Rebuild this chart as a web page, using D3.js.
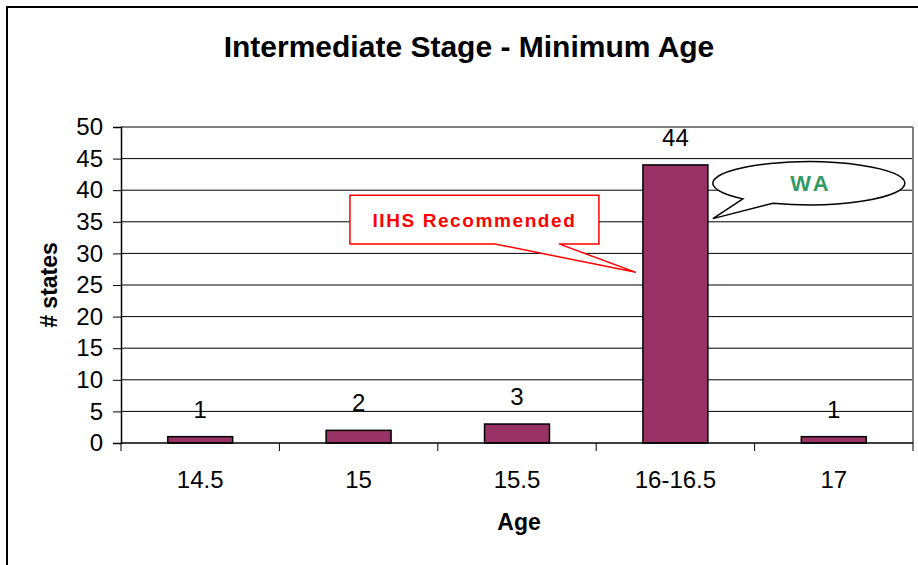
<!DOCTYPE html>
<html>
<head>
<meta charset="utf-8">
<script src="https://cdn.jsdelivr.net/npm/d3@7"></script>
<style>
  body { margin: 0; background: #fff; }
  text { font-family: "Liberation Sans", Arial, sans-serif; }
</style>
</head>
<body>
<svg id="chart"></svg>
<script>
const categories = ["14.5", "15", "15.5", "16-16.5", "17"];
const states = [1, 2, 3, 44, 1];
const yTicks = [0, 5, 10, 15, 20, 25, 30, 35, 40, 45, 50];

const width = 918, height = 565;
const margin = { top: 127, right: 5, bottom: 122, left: 121 };
const innerW = width - margin.left - margin.right;
const innerH = height - margin.top - margin.bottom;

const svg = d3.select("#chart")
    .attr("width", width)
    .attr("height", height);

// outer chart border (runs off the right and bottom edges)
svg.append("rect")
    .attr("x", 7).attr("y", 7)
    .attr("width", width + 10).attr("height", height + 10)
    .attr("fill", "none")
    .attr("stroke", "#000")
    .attr("stroke-width", 2);

svg.append("text")
    .attr("x", 469).attr("y", 57)
    .attr("text-anchor", "middle")
    .attr("font-size", 30)
    .attr("font-weight", "bold")
    .text("Intermediate Stage - Minimum Age");

const g = svg.append("g")
    .attr("transform", "translate(" + margin.left + "," + margin.top + ")");

const x = d3.scaleBand()
    .domain(categories)
    .range([0, innerW])
    .paddingInner(0.59)
    .paddingOuter(0.295);

const y = d3.scaleLinear()
    .domain([0, 50])
    .range([innerH, 0]);

// gridlines
g.selectAll(".grid")
    .data(yTicks.filter(d => d > 0))
    .enter().append("line")
    .attr("x1", 0).attr("x2", innerW)
    .attr("y1", d => y(d)).attr("y2", d => y(d))
    .attr("stroke", d => d === 50 ? "#808080" : "#000")
    .attr("stroke-width", d => d === 50 ? 2 : 1);

// plot area right border
g.append("line")
    .attr("x1", innerW).attr("x2", innerW)
    .attr("y1", 0).attr("y2", innerH)
    .attr("stroke", "#808080")
    .attr("stroke-width", 2);

g.selectAll(".bar")
    .data(states)
    .enter().append("rect")
    .attr("class", "bar")
    .attr("x", (d, i) => x(categories[i]))
    .attr("y", d => y(d))
    .attr("width", x.bandwidth())
    .attr("height", d => innerH - y(d))
    .attr("fill", "#993366")
    .attr("stroke", "#000")
    .attr("stroke-width", 1.5);

g.selectAll(".val")
    .data(states)
    .enter().append("text")
    .attr("x", (d, i) => x(categories[i]) + x.bandwidth() / 2)
    .attr("y", d => y(d) - 19)
    .attr("text-anchor", "middle")
    .attr("font-size", 24)
    .text(d => d);

// y axis
const yAxis = g.append("g")
    .call(d3.axisLeft(y).tickValues(yTicks).tickSize(8).tickPadding(10));
yAxis.select(".domain").attr("stroke", "#000").attr("stroke-width", 1.5);
yAxis.selectAll(".tick line").attr("stroke", "#000");
yAxis.selectAll(".tick text")
    .attr("font-size", 24)
    .attr("font-family", "Liberation Sans, Arial, sans-serif")
    .attr("fill", "#000");

// x axis with ticks at category boundaries
const xAxis = g.append("g")
    .attr("transform", "translate(0," + innerH + ")");
xAxis.append("line")
    .attr("x1", 0).attr("x2", innerW)
    .attr("stroke", "#000").attr("stroke-width", 1.5);
const step = x.step();
xAxis.selectAll(".xt")
    .data(d3.range(categories.length + 1))
    .enter().append("line")
    .attr("x1", i => i * step).attr("x2", i => i * step)
    .attr("y1", 0).attr("y2", 8)
    .attr("stroke", "#000");
xAxis.selectAll(".xl")
    .data(categories)
    .enter().append("text")
    .attr("x", d => x(d) + x.bandwidth() / 2)
    .attr("y", 45)
    .attr("text-anchor", "middle")
    .attr("font-size", 24)
    .text(d => d);

svg.append("text")
    .attr("x", margin.left + innerW / 2 + 2).attr("y", 530)
    .attr("text-anchor", "middle")
    .attr("font-size", 23)
    .attr("font-weight", "bold")
    .text("Age");

svg.append("text")
    .attr("transform", "translate(57," + (margin.top + innerH / 2) + ") rotate(-90)")
    .attr("text-anchor", "middle")
    .attr("font-size", 23)
    .attr("font-weight", "bold")
    .text("# states");

// IIHS callout pointing at the 16-16.5 bar
const bx = x("16-16.5");
const tipX = bx - 7, tipY = y(27);
const boxL = bx - 293, boxR = bx - 44, boxT = y(39.2), boxB = y(31.5);
g.append("path")
    .attr("d", "M" + boxL + "," + boxT + "H" + boxR + "V" + boxB +
        "H" + (boxR - 40) + "L" + tipX + "," + tipY +
        "L" + (boxR - 104) + "," + boxB + "H" + boxL + "Z")
    .attr("fill", "#fff")
    .attr("stroke", "#ff0000")
    .attr("stroke-width", 1.5);
g.append("text")
    .attr("x", (boxL + boxR) / 2).attr("y", (boxT + boxB) / 2 + 7)
    .attr("text-anchor", "middle")
    .attr("font-size", 19)
    .attr("font-weight", "bold")
    .attr("letter-spacing", 1.6)
    .attr("fill", "#ff0000")
    .text("IIHS Recommended");

// WA speech bubble
const wx = bx + x.bandwidth();
const cx = wx + 101, cy = y(41.1), rx = 96, ry = 21.5;
const a1 = Math.acos(-66 / rx), a2 = Math.acos(-36 / rx);
const p1 = [cx + rx * Math.cos(a1), cy + ry * Math.sin(a1)];
const p2 = [cx + rx * Math.cos(a2), cy + ry * Math.sin(a2)];
g.append("path")
    .attr("d", "M" + p2[0] + "," + p2[1] +
        "A" + rx + "," + ry + " 0 1 0 " + p1[0] + "," + p1[1] +
        "L" + (wx + 5) + "," + y(35.5) + "Z")
    .attr("fill", "#fff")
    .attr("stroke", "#000")
    .attr("stroke-width", 1.5);
g.append("text")
    .attr("x", cx + 2).attr("y", cy + 8)
    .attr("text-anchor", "middle")
    .attr("font-size", 22)
    .attr("font-weight", "bold")
    .attr("letter-spacing", 3)
    .attr("fill", "#339966")
    .text("WA");
</script>
</body>
</html>
